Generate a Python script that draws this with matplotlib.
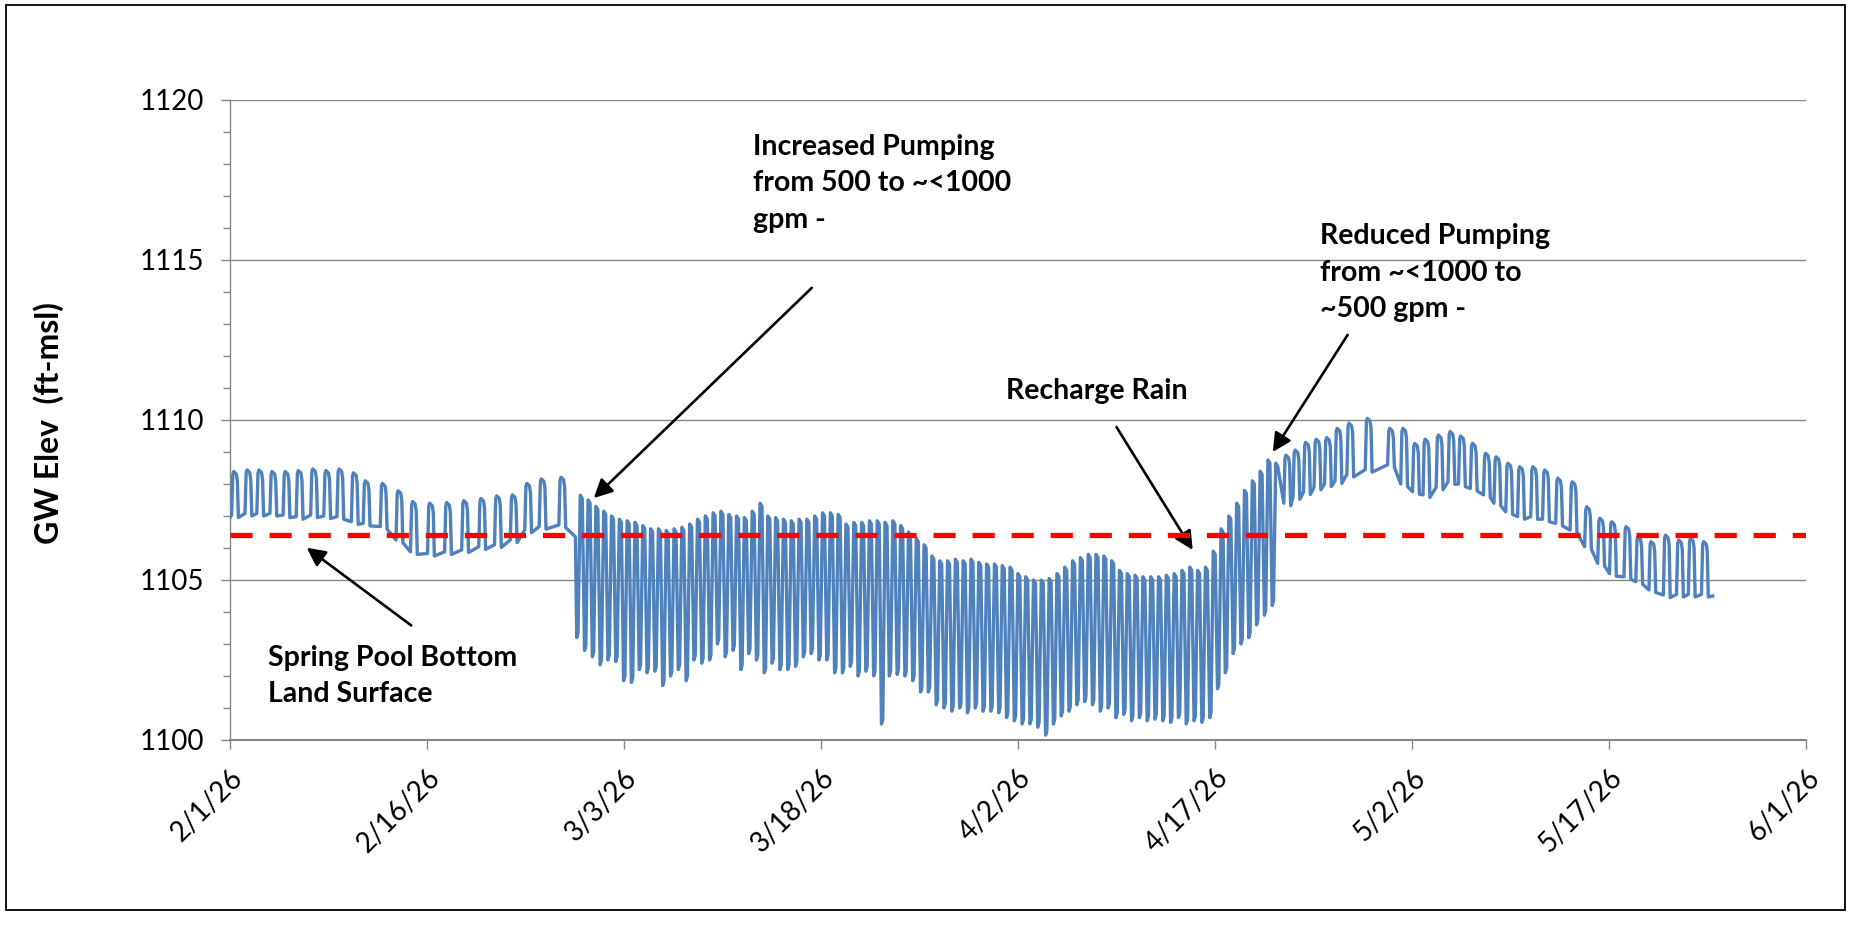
import numpy as np
import matplotlib
matplotlib.use("Agg")
import matplotlib.pyplot as plt
import matplotlib.dates as mdates
from matplotlib.patches import Rectangle
from matplotlib.ticker import MultipleLocator, FixedLocator
from datetime import datetime

plt.rcParams['font.family'] = ['Lato', 'DejaVu Sans']

# ---------------- data ----------------
start_date = "2026-02-01"
first_value = 1106.95
last_value = 1104.5
last_day = 112.9

# Phase 1: daily recovery spikes (day offset from 2/1/26, peak, baseline before spike)
p1_day = [0.38, 1.4, 2.3, 3.3, 4.3, 5.3, 6.4, 7.4, 8.4, 9.5, 10.4, 11.7, 12.9, 14.0,
          15.3, 16.6, 17.9, 19.2, 20.4, 21.6, 22.7, 23.8, 25.3]
p1_top = [1108.39, 1108.44, 1108.44, 1108.39, 1108.39, 1108.42, 1108.47, 1108.42, 1108.47,
          1108.35, 1108.10, 1108.02, 1107.79, 1107.45, 1107.40, 1107.42, 1107.48, 1107.55,
          1107.63, 1107.66, 1108.02, 1108.16, 1108.21]
p1_base = [1107.03, 1107.08, 1107.08, 1107.08, 1107.03, 1106.98, 1107.03, 1107.00, 1106.98,
           1106.82, 1106.77, 1106.67, 1106.25, 1105.88, 1105.83, 1105.88, 1105.94, 1106.04,
           1106.10, 1106.25, 1106.56, 1106.67, 1106.72]

# Phase 2: increased pumping, dense cycling (level just before, first cycle day, spacing, lows, highs)
p2_lead = 1106.35
p2_first_day = 26.4
p2_spacing = 0.595
p2_low = [1103.2, 1102.8, 1102.6, 1102.35, 1102.5, 1102.45, 1101.85, 1101.8, 1102.2, 1102.1,
          1102.15, 1101.7, 1102.0, 1102.2, 1101.85, 1102.5, 1102.4, 1102.5, 1103.0, 1102.6,
          1102.8, 1102.2, 1102.7, 1102.5, 1102.1, 1102.4, 1102.2, 1102.2, 1102.3, 1102.6,
          1102.7, 1102.5, 1102.5, 1102.1, 1102.1, 1102.3, 1102.0, 1102.15, 1102.0, 1100.5,
          1102.0, 1102.05, 1102.0, 1101.85, 1101.5, 1101.5, 1101.1, 1101.0, 1100.9, 1101.0,
          1100.85, 1101.0, 1100.9, 1100.9, 1100.85, 1100.7, 1100.6, 1100.5, 1100.5, 1100.4,
          1100.15, 1100.5, 1100.75, 1100.9, 1101.1, 1101.2, 1101.1, 1100.9, 1101.0, 1100.7,
          1100.8, 1100.6, 1100.7, 1100.6, 1100.65, 1100.6, 1100.55, 1100.7, 1100.5, 1100.6,
          1100.55, 1100.7, 1101.6, 1102.1, 1102.7, 1103.0, 1103.2, 1103.6, 1103.9, 1104.2]
p2_high = [1107.65, 1107.5, 1107.3, 1107.15, 1107.0, 1106.9, 1106.85, 1106.8, 1106.7, 1106.6,
           1106.6, 1106.55, 1106.6, 1106.65, 1106.75, 1106.9, 1107.0, 1107.1, 1107.15, 1107.05,
           1107.0, 1106.95, 1107.15, 1107.4, 1107.0, 1106.95, 1106.9, 1106.85, 1106.9, 1106.9,
           1107.0, 1107.1, 1107.1, 1107.05, 1106.75, 1106.8, 1106.8, 1106.85, 1106.85, 1106.8,
           1106.85, 1106.7, 1106.5, 1106.3, 1106.1, 1105.75, 1105.6, 1105.6, 1105.65, 1105.6,
           1105.65, 1105.55, 1105.5, 1105.5, 1105.45, 1105.4, 1105.2, 1105.1, 1105.0, 1105.0,
           1105.05, 1105.2, 1105.4, 1105.6, 1105.7, 1105.8, 1105.8, 1105.75, 1105.6, 1105.3,
           1105.2, 1105.15, 1105.1, 1105.1, 1105.1, 1105.15, 1105.2, 1105.3, 1105.4, 1105.3,
           1105.4, 1105.9, 1106.6, 1107.0, 1107.4, 1107.8, 1108.1, 1108.4, 1108.75, 1108.65]

# Phase 3: reduced pumping, daily spikes again
p3_day = [80.5, 81.2, 82.0, 82.8, 83.6, 84.4, 85.3, 86.7, 88.4, 89.4, 90.3, 91.1, 92.1, 93.0,
          93.8, 94.7, 95.7, 96.5, 97.4, 98.3, 99.3, 100.2, 101.2, 102.3, 103.4, 104.4, 105.3,
          106.4, 107.3, 108.3, 109.4, 110.4, 111.3, 112.3]
p3_top = [1108.9, 1109.06, 1109.3, 1109.4, 1109.45, 1109.74, 1109.9, 1110.05, 1109.74, 1109.74,
          1109.27, 1109.4, 1109.53, 1109.64, 1109.5, 1109.27, 1108.96, 1108.85, 1108.65, 1108.54,
          1108.54, 1108.44, 1108.18, 1108.07, 1107.29, 1106.93, 1106.82, 1106.67, 1106.35,
          1106.2, 1106.4, 1106.25, 1106.3, 1106.2]
p3_base = [1107.4, 1107.6, 1107.75, 1107.9, 1108.0, 1108.1, 1108.3, 1108.45, 1108.6, 1108.0,
           1107.76, 1107.66, 1107.9, 1108.07, 1108.0, 1107.86, 1107.66, 1107.4, 1107.13, 1106.98,
           1106.98, 1106.9, 1106.77, 1106.56, 1106.04, 1105.52, 1105.2, 1105.1, 1104.95, 1104.69,
           1104.53, 1104.55, 1104.55, 1104.55]

spring_pool_bottom = 1106.4

tick_labels = ['2/1/26', '2/16/26', '3/3/26', '3/18/26', '4/2/26', '4/17/26', '5/2/26',
               '5/17/26', '6/1/26']
y_ticks = [1100, 1105, 1110, 1115, 1120]

# ---------------- build the trace ----------------
def add_pulses(t, v, days, tops, bases):
    for d, h, b in zip(days, tops, bases):
        t += [d - 0.26, d - 0.17, d - 0.1, d + 0.1, d + 0.18, d + 0.26]
        v += [b, h - 0.1, h, h - 0.08, h - 0.3, b - 0.08]

t, v = [0.0], [first_value]
add_pulses(t, v, p1_day, p1_top, p1_base)
t.append(p2_first_day - 0.1)
v.append(p2_lead)
for i, (lo, hi) in enumerate(zip(p2_low, p2_high)):
    d = p2_first_day + i * p2_spacing
    t += [d, d + 0.1, d + 0.27, d + 0.42]
    v += [lo, lo + 0.15, hi, hi - 0.1]
add_pulses(t, v, p3_day, p3_top, p3_base)
t.append(last_day)
v.append(last_value)

t0 = mdates.date2num(datetime.strptime(start_date, "%Y-%m-%d"))
x = t0 + np.array(t)

# ---------------- figure ----------------
fig = plt.figure(figsize=(18.51, 9.25), dpi=100)
ax = fig.add_axes([230 / 1851, 1 - 740 / 925, 1576 / 1851, 640 / 925])

grid_c = '#868686'
ax.plot(x, v, color='#4F81BD', lw=2.4, solid_joinstyle='round', zorder=3)
ax.axhline(spring_pool_bottom, color='#FF0000', lw=3.8, linestyle=(0, (4.2, 3.2)), zorder=4)

tick_dates = [mdates.date2num(datetime.strptime(s, "%m/%d/%y")) for s in tick_labels]
ax.set_xlim(tick_dates[0], tick_dates[-1])
ax.set_ylim(1100, 1120)
ax.xaxis.set_major_locator(FixedLocator(tick_dates))
ax.set_xticklabels(tick_labels, rotation=45, ha='right', va='top', rotation_mode='anchor')
ax.set_yticks(y_ticks)
ax.set_yticklabels([str(y) for y in y_ticks])
ax.yaxis.set_minor_locator(MultipleLocator(1))

ax.grid(axis='y', which='major', color=grid_c, lw=1.0, zorder=1)
for s in ['top', 'right']:
    ax.spines[s].set_visible(False)
ax.spines['left'].set_color(grid_c)
ax.spines['left'].set_linewidth(1.0)
ax.spines['bottom'].set_color(grid_c)
ax.spines['bottom'].set_linewidth(1.5)
ax.tick_params(axis='y', which='major', direction='out', length=6.5, width=1.0, color=grid_c,
               labelsize=20, pad=12)
ax.tick_params(axis='y', which='minor', direction='out', length=5, width=1.0, color=grid_c)
ax.tick_params(axis='x', which='major', direction='out', length=6.5, width=1.0, color=grid_c,
               labelsize=20, pad=11)

fig.text(0.026, 0.543, 'GW Elev  (ft-msl)', rotation=90, ha='center', va='center',
         fontsize=23, fontweight='bold')

def day(dd):
    return t0 + dd

txt_kw = dict(fontsize=20.5, fontweight='bold', ha='left', va='center', linespacing=1.5)
ax.text(day(39.8), 1117.4, 'Increased Pumping\nfrom 500 to ~<1000\ngpm -', **txt_kw)
ax.text(day(83.0), 1114.6, 'Reduced Pumping\nfrom ~<1000 to\n~500 gpm -', **txt_kw)
ax.text(day(59.1), 1110.9, 'Recharge Rain', **txt_kw)
ax.text(day(2.9), 1102.0, 'Spring Pool Bottom\nLand Surface', **txt_kw)

arr = dict(arrowstyle='-|>,head_length=0.7,head_width=0.35', color='black', lw=1.9,
           shrinkA=0, shrinkB=0, mutation_scale=16)
ax.annotate('', xy=(day(27.7), 1107.56), xytext=(day(44.3), 1114.13), arrowprops=arr)
ax.annotate('', xy=(day(79.4), 1109.0), xytext=(day(85.1), 1112.66), arrowprops=arr)
ax.annotate('', xy=(day(73.3), 1105.94), xytext=(day(67.5), 1109.78), arrowprops=arr)
ax.annotate('', xy=(day(5.84), 1106.01), xytext=(day(13.8), 1103.58), arrowprops=arr)

fig.add_artist(Rectangle((6 / 1851, 1 - 910 / 925), 1839 / 1851, 905 / 925,
                         transform=fig.transFigure, fill=False, ec='black', lw=1.3))

fig.savefig('out.png', dpi=100)
